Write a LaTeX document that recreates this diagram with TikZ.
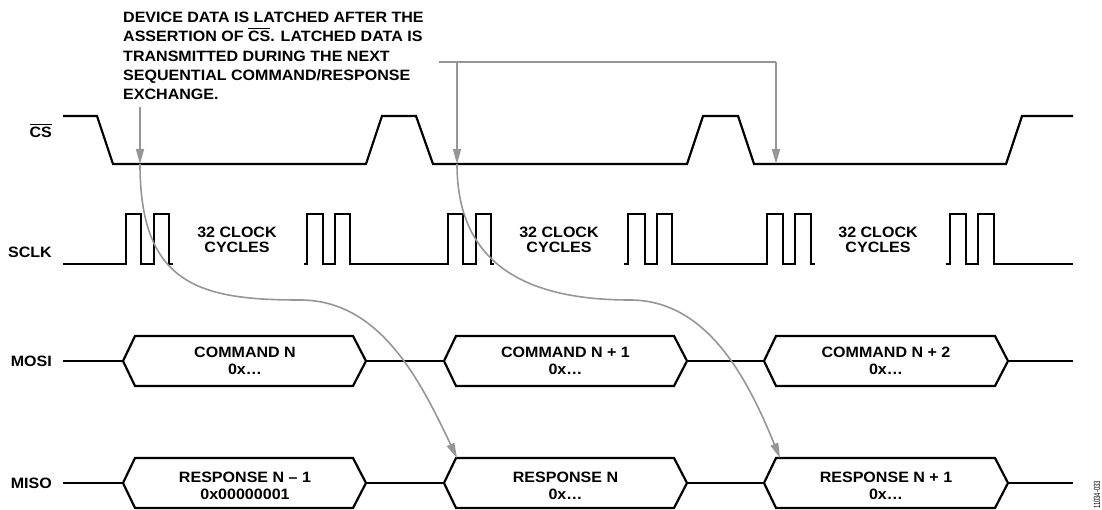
\documentclass[tikz,border=0pt]{standalone}
\usepackage{fontspec}
\setmainfont{Liberation Sans}[FakeStretch=1.07]
\newfontfamily\narrowfont{Liberation Sans}[FakeStretch=0.65]
\usetikzlibrary{arrows.meta}
\definecolor{grayc}{RGB}{150,150,150}
\newsavebox\ovlbox
\newcommand\ovl[1]{\sbox\ovlbox{#1}\rlap{\raisebox{\dimexpr\ht\ovlbox+2.2pt\relax}{\rule{\wd\ovlbox}{1.1pt}}}\usebox\ovlbox}
\newcommand\hexbus[3]{\draw[sig] (#1,#3) -- (#1+12,#3-25) -- (#2-13,#3-25) -- (#2,#3) -- (#2-13,#3+25) -- (#1+12,#3+25) -- cycle;}
\begin{document}
\begin{tikzpicture}[x=1pt,y=-1pt,
  sig/.style={line width=2.2pt, line join=miter, draw=black},
  garrow/.style={draw=grayc, line width=1.6pt, -{Triangle[length=15pt,width=8pt]}},
  gline/.style={draw=grayc, line width=1.6pt, line join=miter},
  lbl/.style={font=\fontsize{15}{15}\selectfont\bfseries, inner sep=0pt, anchor=base east},
  hextext/.style={font=\fontsize{15}{17}\selectfont\bfseries, align=center, inner sep=0pt},
  clk/.style={font=\fontsize{15}{15}\selectfont\bfseries, align=center, inner sep=0pt},
  note/.style={font=\fontsize{15}{19.25}\selectfont\bfseries, align=left, anchor=north west, inner sep=0pt}
]
\useasboundingbox (0,0) rectangle (1102,510);

% signal labels
\node[lbl] (lcs) at (52,138) {\ovl{CS}};
\node[lbl] (lsclk) at (52,258) {SCLK};
\node[lbl] (lmosi) at (52,366) {MOSI};
\node[lbl] (lmiso) at (52,488) {MISO};

% annotation
\node[note] (ann) at (123,12) {DEVICE DATA IS LATCHED AFTER THE\\ASSERTION OF \ovl{CS}. LATCHED DATA IS\\TRANSMITTED DURING THE NEXT\\SEQUENTIAL COMMAND/RESPONSE\\EXCHANGE.};

% CS waveform
\draw[sig] (63,116) -- (97,116) -- (113,164) -- (366,164) -- (382,116) -- (416,116) -- (433,164) -- (687,164) -- (703,116) -- (738,116) -- (754,164) -- (1006,164) -- (1022,116) -- (1073,116);

% SCLK waveform
\draw[sig] (63,264) -- (126,264) -- (126,214) -- (141,214) -- (141,264) -- (154,264) -- (154,214) -- (169,214) -- (169,264) -- (173,264);
\draw[sig] (304,264) -- (307,264) -- (307,214) -- (323,214) -- (323,264) -- (335,264) -- (335,214) -- (350,214) -- (350,264) -- (448,264) -- (448,214) -- (463,214) -- (463,264) -- (476,264) -- (476,214) -- (491,214) -- (491,264) -- (494,264);
\draw[sig] (624,264) -- (628,264) -- (628,214) -- (645,214) -- (645,264) -- (657,264) -- (657,214) -- (672,214) -- (672,264) -- (767,264) -- (767,214) -- (783,214) -- (783,264) -- (795,264) -- (795,214) -- (811,214) -- (811,264) -- (815,264);
\draw[sig] (946,264) -- (950,264) -- (950,214) -- (966,214) -- (966,264) -- (978,264) -- (978,214) -- (994,214) -- (994,264) -- (1073,264);

\node[clk] (clk1) at (237,239.5) {32 CLOCK\\CYCLES};
\node[clk] (clk2) at (559,239.5) {32 CLOCK\\CYCLES};
\node[clk] (clk3) at (878,239.5) {32 CLOCK\\CYCLES};

% MOSI bus
\draw[sig] (63,361) -- (123,361);
\draw[sig] (366,361) -- (444,361);
\draw[sig] (687,361) -- (764,361);
\draw[sig] (1008,361) -- (1073,361);
\hexbus{123}{366}{361}
\hexbus{444}{687}{361}
\hexbus{764}{1008}{361}
\node[hextext] (cmd0) at (245,360.5) {COMMAND N\\0x…};
\node[hextext] (cmd1) at (565.5,360.5) {COMMAND N + 1\\0x…};
\node[hextext] (cmd2) at (886,360.5) {COMMAND N + 2\\0x…};

% MISO bus
\draw[sig] (63,483) -- (123,483);
\draw[sig] (366,483) -- (444,483);
\draw[sig] (687,483) -- (764,483);
\draw[sig] (1008,483) -- (1073,483);
\hexbus{123}{366}{483}
\hexbus{444}{687}{483}
\hexbus{764}{1008}{483}
\node[hextext] (rsp0) at (245,485.5) {RESPONSE N – 1\\0x00000001};
\node[hextext] (rsp1) at (565.5,485.5) {RESPONSE N\\0x…};
\node[hextext] (rsp2) at (886,485.5) {RESPONSE N + 1\\0x…};

% arrow coordinates
\coordinate (a1s) at (140,107);
\coordinate (a1t) at (140,164);
\coordinate (m1) at (300,300);
\coordinate (r2tl) at (457,458);
\coordinate (hl) at (439,62);
\coordinate (hj) at (457,62);
\coordinate (hr) at (776,62);
\coordinate (a2t) at (457,164);
\coordinate (a3t) at (776,164);
\coordinate (m2) at (630,300);
\coordinate (r3tl) at (780,458);

% gray arrows
\draw[garrow] (a1s) -- (a1t);
\draw[garrow] (a1t) .. controls (140,285) and (200,300) .. (m1) .. controls (380,300) and (420,380) .. (r2tl);
\draw[gline] (hl) -- (hr);
\draw[garrow] (hj) -- (a2t);
\draw[garrow] (hr) -- (a3t);
\draw[garrow] (a2t) .. controls (457,260) and (520,300) .. (m2) .. controls (710,300) and (750,385) .. (r3tl);

% figure code
\node[font=\narrowfont\fontsize{9}{9}\selectfont, rotate=90, inner sep=0pt] (code) at (1097,495) {11034-033};
\end{tikzpicture}
\end{document}
